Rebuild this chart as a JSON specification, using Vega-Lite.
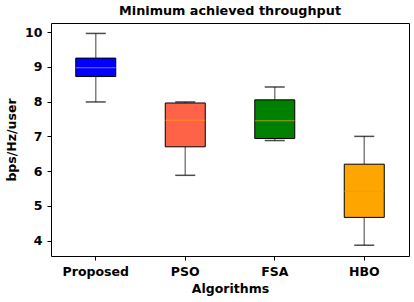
{
  "$schema": "https://vega.github.io/schema/vega-lite/v6.json",
  "width": 358,
  "height": 233,
  "autosize": "none",
  "padding": {"left": 51, "top": 23, "right": 5, "bottom": 46},
  "title": {"text": "Minimum achieved throughput", "font": "DejaVu Sans", "fontSize": 12.8, "fontWeight": "bold", "color": "#000", "offset": 5},
  "config": {
    "view": {"stroke": "#000", "strokeWidth": 1},
    "axis": {"labelFont": "DejaVu Sans", "labelFontWeight": "bold", "labelFontSize": 12.5, "labelColor": "#000", "titleFont": "DejaVu Sans", "titleFontWeight": "bold", "titleFontSize": 12.5, "titleColor": "#000", "tickColor": "#000", "domain": false, "grid": false, "tickSize": 4, "labelOverlap": false}
  },
  "data": {"values": [
    {"algo": "Proposed", "lower": 7.99, "q1": 8.72, "median": 8.97, "q3": 9.25, "upper": 9.96, "fill": "#0000ff", "med": "#ff80c0"},
    {"algo": "PSO", "lower": 5.88, "q1": 6.70, "median": 7.46, "q3": 7.96, "upper": 7.99, "fill": "#ff6347", "med": "#ffa020"},
    {"algo": "FSA", "lower": 6.88, "q1": 6.94, "median": 7.45, "q3": 8.05, "upper": 8.42, "fill": "#008000", "med": "#e0b020"},
    {"algo": "HBO", "lower": 3.87, "q1": 4.67, "median": 5.42, "q3": 6.20, "upper": 7.0, "fill": "#ffa500", "med": "#f09a00"}
  ]},
  "encoding": {
    "x": {"field": "algo", "type": "nominal", "sort": ["Proposed", "PSO", "FSA", "HBO"],
      "scale": {"paddingInner": 0, "paddingOuter": 0},
      "axis": {"title": "Algorithms", "labelAngle": 0, "labelPadding": 5, "titlePadding": 5}}
  },
  "layer": [
    {"mark": {"type": "rule", "color": "#808080", "strokeWidth": 1.5},
     "encoding": {"y": {"field": "lower", "type": "quantitative", "scale": {"domain": [3.56, 10.26], "nice": false, "zero": false},
        "axis": {"title": "bps/Hz/user", "values": [4, 5, 6, 7, 8, 9, 10], "tickCount": 7, "labelPadding": 5, "titlePadding": 6}},
       "y2": {"field": "q1"}}},
    {"mark": {"type": "rule", "color": "#808080", "strokeWidth": 1.5},
     "encoding": {"y": {"field": "q3", "type": "quantitative", "axis": {"title": "bps/Hz/user", "values": [4, 5, 6, 7, 8, 9, 10], "tickCount": 7, "labelPadding": 5, "titlePadding": 6}}, "y2": {"field": "upper"}}},
    {"mark": {"type": "tick", "color": "#000", "size": 20, "thickness": 1.5},
     "encoding": {"y": {"field": "lower", "type": "quantitative", "axis": {"title": "bps/Hz/user", "values": [4, 5, 6, 7, 8, 9, 10], "tickCount": 7, "labelPadding": 5, "titlePadding": 6}}}},
    {"mark": {"type": "tick", "color": "#000", "size": 20, "thickness": 1.5},
     "encoding": {"y": {"field": "upper", "type": "quantitative", "axis": {"title": "bps/Hz/user", "values": [4, 5, 6, 7, 8, 9, 10], "tickCount": 7, "labelPadding": 5, "titlePadding": 6}}}},
    {"mark": {"type": "bar", "width": 40, "stroke": "#000", "strokeWidth": 1},
     "encoding": {"y": {"field": "q1", "type": "quantitative", "axis": {"title": "bps/Hz/user", "values": [4, 5, 6, 7, 8, 9, 10], "tickCount": 7, "labelPadding": 5, "titlePadding": 6}}, "y2": {"field": "q3"},
       "fill": {"field": "fill", "type": "nominal", "scale": null}}},
    {"mark": {"type": "tick", "size": 40, "thickness": 1},
     "encoding": {"y": {"field": "median", "type": "quantitative", "axis": {"title": "bps/Hz/user", "values": [4, 5, 6, 7, 8, 9, 10], "tickCount": 7, "labelPadding": 5, "titlePadding": 6}},
       "color": {"field": "med", "type": "nominal", "scale": null}}}
  ]
}
